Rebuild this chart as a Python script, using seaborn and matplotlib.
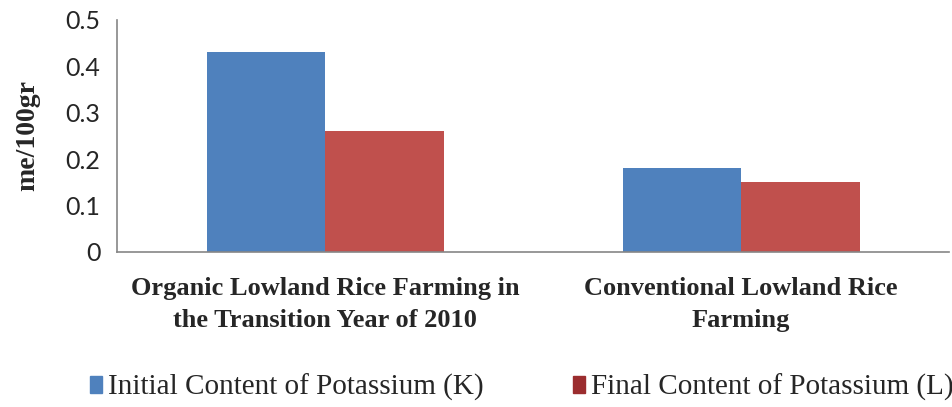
import matplotlib
matplotlib.use("Agg")
import matplotlib.pyplot as plt
from matplotlib.patches import Patch
import seaborn as sns
import pandas as pd

# values
categories = ["Organic Lowland Rice Farming in\nthe Transition Year of 2010",
              "Conventional Lowland Rice\nFarming"]
series = ["Initial Content of Potassium (K)", "Final Content of Potassium (L)"]
initial_k = [0.43, 0.18]
final_l = [0.26, 0.15]
y_ticks = [0, 0.1, 0.2, 0.3, 0.4, 0.5]
y_tick_labels = ["0", "0.1", "0.2", "0.3", "0.4", "0.5"]

df = pd.DataFrame({
    "category": categories * 2,
    "series": [series[0]] * 2 + [series[1]] * 2,
    "value": initial_k + final_l,
})

sns.set_style("white")

fig = plt.figure(figsize=(9.53, 4.07), dpi=100)
ax = fig.add_axes([0.123, 0.381, 0.873, 0.570])

bar_colors = ["#4F81BD", "#C0504D"]
sns.barplot(data=df, x="category", y="value", hue="series", order=categories,
            hue_order=series, palette=bar_colors, width=0.57, saturation=1,
            legend=False, ax=ax, edgecolor="none")

ax.set_ylim(0, 0.5)
ax.set_yticks(y_ticks)
ax.set_yticklabels(y_tick_labels, fontfamily="Lato", fontsize=18)
ax.tick_params(axis="y", length=0, pad=12)
ax.set_xticks(range(len(categories)))
ax.set_xticklabels(categories, fontfamily="Liberation Serif", fontweight="bold",
                   fontsize=19)
for lbl in ax.get_xticklabels():
    lbl.set_linespacing(1.5)
ax.tick_params(axis="x", length=0, pad=18)
ax.set_xlabel("")
ax.set_ylabel("me/100gr", fontfamily="Liberation Serif", fontweight="bold",
              fontsize=20, labelpad=18)

for side in ["top", "right"]:
    ax.spines[side].set_visible(False)
for side in ["left", "bottom"]:
    ax.spines[side].set_color("#868686")
    ax.spines[side].set_linewidth(1.2)

handles = [Patch(color="#4F81BD"), Patch(color="#9B2D2F")]
fig.legend(handles, series, loc="lower left", bbox_to_anchor=(0.067, -0.05),
           ncol=2, frameon=False, handlelength=0.42, handleheight=0.55,
           handletextpad=0.2, columnspacing=3.05,
           prop={"family": "Liberation Serif", "size": 21})

fig.savefig("out.png", dpi=100)
